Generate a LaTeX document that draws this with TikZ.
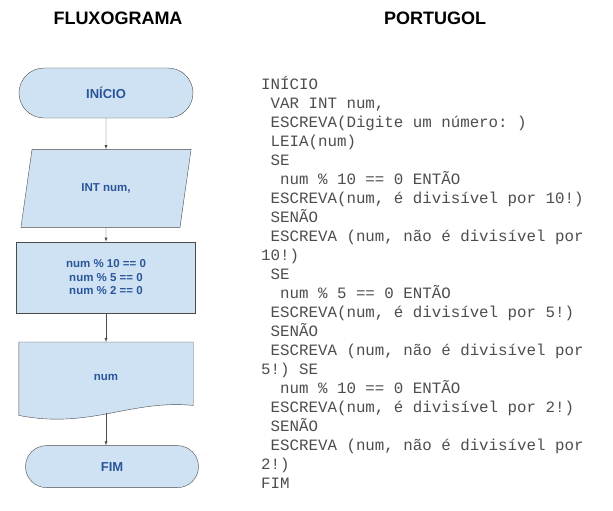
\documentclass[tikz,border=0pt]{standalone}
\usepackage{fontspec}
\setmainfont{Liberation Sans}
\setmonofont{Liberation Mono}
\usepackage{tikz}
\usetikzlibrary{shapes.geometric, arrows, positioning, backgrounds}

\definecolor{chartfill}{HTML}{CFE2F3}
\definecolor{chartline}{HTML}{4A4A4A}
\definecolor{charttext}{HTML}{2A5699}
\definecolor{codetext}{HTML}{4D4D4D}
\newcommand{\pad}{\phantom{X}}

\begin{document}
\begin{tikzpicture}[
    x=1pt, y=-1pt,
    title/.style={font=\fontsize{18}{21}\selectfont\bfseries},
    terminal/.style={rectangle, draw=chartline, fill=chartfill, text=charttext, font=\fontsize{13}{15}\selectfont\bfseries, rounded corners=#1, minimum width=174pt, minimum height=2*#1},
    io/.style={trapezium, trapezium left angle=75.6, trapezium right angle=104.4, trapezium stretches=true, draw=chartline, fill=chartfill, text=charttext, font=\fontsize{11.5}{13.5}\selectfont\bfseries, minimum width=171pt, minimum height=78pt},
    block/.style={rectangle, draw=chartline, fill=chartfill, text=charttext, font=\fontsize{11.5}{13.5}\selectfont\bfseries, align=center, minimum width=179pt, minimum height=71pt},
    docbox/.style={rectangle, text=charttext, font=\fontsize{11.5}{13.5}\selectfont\bfseries, minimum width=174pt, minimum height=71pt},
    code/.style={anchor=north west, inner sep=0pt, align=left, text=codetext, font=\fontsize{15.8}{19}\selectfont\ttfamily\frenchspacing},
    line/.style={draw=chartline, -latex}
]
\useasboundingbox (0,0) rectangle (613,511);

% Titles
\node[title] (ftitle) at (118,18) {FLUXOGRAMA};
\node[title] (ptitle) at (435,18) {PORTUGOL};

% Flowchart
\node[terminal=25pt] (start) at (106,93) {INÍCIO};
\node[io, below=31pt of start] (read) {INT num,};
\node[block, below=14pt of read] (test) {num \% 10 == 0\\num \% 5 == 0\\num \% 2 == 0};
\node[docbox, below=29pt of test] (out) {num};
\node[terminal=21pt, minimum width=173pt, below=32pt of out, xshift=6pt] (stop) {FIM};

% Document shape
\begin{scope}[on background layer]
\draw[chartline, fill=chartfill] (out.north west) -- (out.north east) -- ([yshift=8pt]out.south east)
    .. controls +(-63,-6) and +(71,14) .. ([yshift=-2pt]out.south west) -- cycle;
\end{scope}

% Connections
\draw[line] (start) -- (read);
\draw[line] (read) -- (test);
\draw[line] (test) -- (out);
\draw[line] (out) -- (out |- stop.north);

% Portugol
\node[code] (prog) at (261,76) {%
INÍCIO\\
\pad VAR INT num,\\
\pad ESCREVA(Digite um número: )\\
\pad LEIA(num)\\
\pad SE\\
\pad\pad num \% 10 == 0 ENTÃO\\
\pad ESCREVA(num, é divisível por 10!)\\
\pad SENÃO\\
\pad ESCREVA (num, não é divisível por\\
10!)\\
\pad SE\\
\pad\pad num \% 5 == 0 ENTÃO\\
\pad ESCREVA(num, é divisível por 5!)\\
\pad SENÃO\\
\pad ESCREVA (num, não é divisível por\\
5!) SE\\
\pad\pad num \% 10 == 0 ENTÃO\\
\pad ESCREVA(num, é divisível por 2!)\\
\pad SENÃO\\
\pad ESCREVA (num, não é divisível por\\
2!)\\
FIM};

\end{tikzpicture}
\end{document}
